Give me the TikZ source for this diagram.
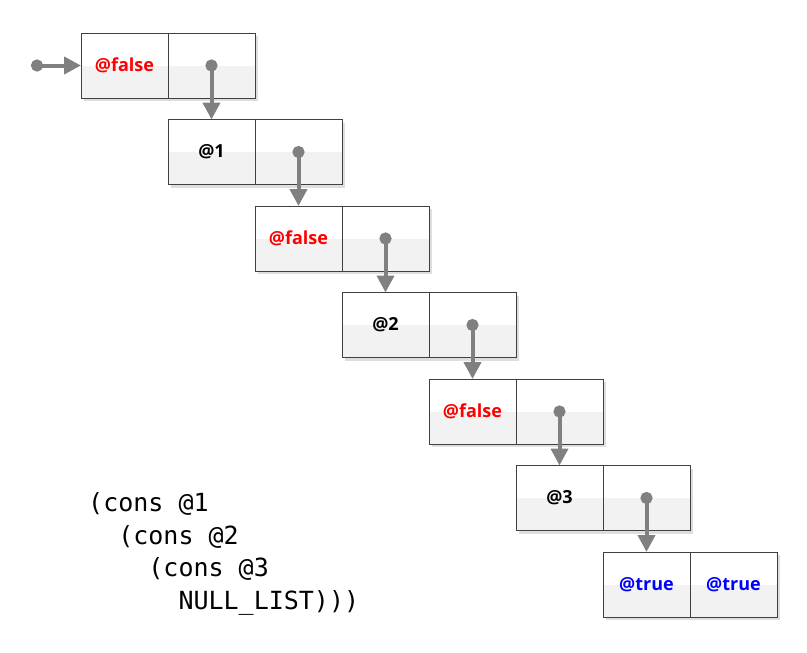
\documentclass[tikz,border=0pt]{standalone}
\usepackage{fontspec}
\setmainfont{Open Sans}
\setmonofont{DejaVu Sans Mono}
\usepackage{tikz}
\usetikzlibrary{positioning,shadows,arrows.meta}
\definecolor{cellgray}{HTML}{F2F2F2}
\definecolor{ptrgray}{HTML}{808080}
\definecolor{edgegray}{HTML}{404040}
\definecolor{falsered}{HTML}{FF0000}
\definecolor{trueblue}{HTML}{0000FF}

\begin{document}
\begin{tikzpicture}
[x=1pt,y=1pt,node distance=21.5pt]
\tikzset{
	cell/.style = {draw=edgegray, line width=1pt, outer sep=0pt, inner sep=0pt,
		minimum width=87pt, minimum height=65pt, fill=white,
		font=\bfseries\fontsize{18}{20}\selectfont,
		path picture={\fill[cellgray] (path picture bounding box.west) rectangle (path picture bounding box.south east);},
		drop shadow={shadow xshift=3pt, shadow yshift=-3pt, fill=black!13, opacity=1}},
	falsecell/.style = {cell, text=falsered},
	truecell/.style = {cell, text=trueblue},
	ptr/.style = {draw=ptrgray, line width=4pt, shorten <=-6pt,
		{Circle[length=12pt]}-{Triangle[width=17pt,length=17pt]}},
	code/.style = {align=left, inner sep=0pt, font=\ttfamily\fontsize{25}{32.5}\selectfont}
}
\useasboundingbox (0,0) rectangle (807,-653);

\node (car1) [falsecell] at (124.5,-65.5) {@false};
\node (cdr1) [cell, right=0pt of car1] {};

\node (car2) [cell, below=of cdr1] {@1};
\node (cdr2) [cell, right=0pt of car2] {};

\node (car3) [falsecell, below=of cdr2] {@false};
\node (cdr3) [cell, right=0pt of car3] {};

\node (car4) [cell, below=of cdr3] {@2};
\node (cdr4) [cell, right=0pt of car4] {};

\node (car5) [falsecell, below=of cdr4] {@false};
\node (cdr5) [cell, right=0pt of car5] {};

\node (car6) [cell, below=of cdr5] {@3};
\node (cdr6) [cell, right=0pt of car6] {};

\node (car7) [truecell, below=of cdr6] {@true};
\node (cdr7) [truecell, right=0pt of car7] {@true};

% pointers
\coordinate (entry) at (37,-65.5);
\draw[ptr] (entry) -- (car1.west);
\draw[ptr] (cdr1.center) -- (car2.north);
\draw[ptr] (cdr2.center) -- (car3.north);
\draw[ptr] (cdr3.center) -- (car4.north);
\draw[ptr] (cdr4.center) -- (car5.north);
\draw[ptr] (cdr5.center) -- (car6.north);
\draw[ptr] (cdr6.center) -- (car7.north);

\node (source) [code, anchor=base west] at (88,-609)
	{(cons @1\\~~(cons @2\\~~~~(cons @3\\~~~~~~NULL\_LIST)))};

\end{tikzpicture}
\end{document}
